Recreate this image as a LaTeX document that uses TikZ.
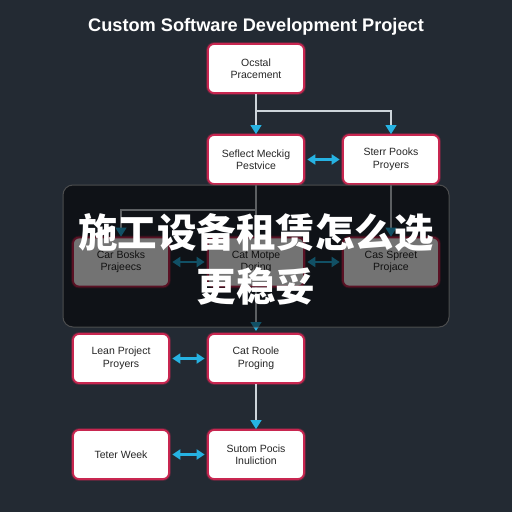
\documentclass[tikz,border=0pt]{standalone}
\usepackage{fontspec}
\setmainfont{Liberation Sans}
\newfontfamily\cjk{Noto Sans CJK SC}
\usetikzlibrary{arrows.meta}
\definecolor{bgslate}{RGB}{35,42,51}
\definecolor{boxedge}{RGB}{200,38,80}
\definecolor{arrowcyan}{RGB}{38,178,226}
\definecolor{linegrey}{RGB}{205,212,218}

\begin{document}
\begin{tikzpicture}[x=1pt,y=-1pt,
  stage/.style={draw=boxedge, line width=1.8pt, fill=white, rounded corners=6pt,
    preaction={draw=boxedge, line width=3.6pt, draw opacity=0.35},
    minimum width=96pt, minimum height=49pt, align=center,
    font=\fontsize{10.5}{12.5}\selectfont, text=black!85},
  flow/.style={draw=linegrey, line width=1.2pt, -{Triangle[color=arrowcyan,width=11pt,length=9pt]}},
  link/.style={draw=arrowcyan, line width=2.4pt, {Triangle[width=10pt,length=8pt]}-{Triangle[width=10pt,length=8pt]},
    shorten >=2.5pt, shorten <=2.5pt}]
         \fill[bgslate] (0,0) rectangle (512,512);
         \node (title) at (256,27) [text=white, font=\bfseries\fontsize{18.2}{21}\selectfont] {Custom Software Development Project};

         % top and second row
         \node[stage] (ocstal) at (256,68.5) {Ocstal\\Pracement};
         \node[stage] (seflect) at (256,159.5) {Seflect Meckig\\Pestvice};
         \node[stage] (sterr) at (391,159.5) {Sterr Pooks\\Proyers};
         \coordinate (split) at (256,111);
         \draw[flow] (ocstal.south) -- (seflect.north);
         \draw[flow] (split) -| (sterr.north);
         \draw[link] (seflect.east) -- (sterr.west);

         % third row, behind the veil
         \coordinate (fork) at (256,210);
         \draw[flow] (seflect.south) -- (256,331);
         \node[stage] (carbosks) at (121,262) {Car Bosks\\Prajeecs};
         \node[stage] (catmotpe) at (256,262) {Cat Motpe\\Doring};
         \node[stage] (casspreet) at (391,262) {Cas Spreet\\Projace};
         \draw[flow] (fork) -| (carbosks.north);
         \draw[flow] (sterr.south) -- (casspreet.north);
         \draw[link] (carbosks.east) -- (catmotpe.west);
         \draw[link] (catmotpe.east) -- (casspreet.west);

         \node (veil) at (256,256) [fill=black, fill opacity=0.55, draw=gray!70!black, draw opacity=0.8, line width=1pt,
           rounded corners=10pt, minimum width=386pt, minimum height=142pt] {};
         \node (banner) at (256,259) [text=white, align=center, font=\cjk\bfseries\fontsize{39.5}{54}\selectfont] {施工设备租赁怎么选\\更稳妥};

         % lower rows
         \node[stage] (leanproj) at (121,358.5) {Lean Project\\Proyers};
         \node[stage] (catroole) at (256,358.5) {Cat Roole\\Proging};
         \node[stage] (teter) at (121,454.5) {Teter Week};
         \node[stage] (sutom) at (256,454.5) {Sutom Pocis\\Inuliction};
         \draw[link] (leanproj.east) -- (catroole.west);
         \draw[flow] (catroole.south) -- (sutom.north);
         \draw[link] (teter.east) -- (sutom.west);
    \end{tikzpicture}
\end{document}
